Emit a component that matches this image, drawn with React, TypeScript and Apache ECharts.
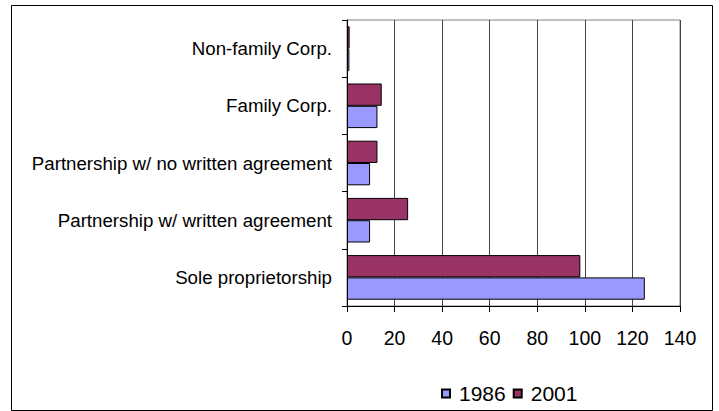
import React, { useEffect, useRef } from "react";
import * as echarts from "echarts";

const categories = [
  "Sole proprietorship",
  "Partnership w/ written agreement",
  "Partnership w/ no written agreement",
  "Family Corp.",
  "Non-family Corp.",
];
const seriesNames = ["1986", "2001"];
const values1986 = [125.2, 9.7, 9.7, 12.8, 1.0];
const values2001 = [98.1, 25.7, 12.8, 14.6, 1.1];
const colors = ["#9999FF", "#993366"];

const FONT = "'Liberation Sans', Arial, sans-serif";

export default function App() {
  const ref = useRef<HTMLDivElement>(null);
  useEffect(() => {
    if (!ref.current) return;
    const chart = echarts.init(ref.current, null, { renderer: "svg" });
    const seriesData = [values1986, values2001];
    // draw 2001 first so that 1986 sits in the lower half of each band
    const order = [1, 0];
    chart.setOption({
      animation: false,
      backgroundColor: "#ffffff",
      textStyle: { fontFamily: FONT, color: "#000" },
      grid: {
        left: 347,
        top: 20,
        right: 39,
        bottom: 105,
        show: true,
        borderColor: "#808080",
        borderWidth: 1,
      },
      xAxis: {
        type: "value",
        min: 0,
        max: 140,
        interval: 20,
        axisLine: { show: true, lineStyle: { color: "#000", width: 1 } },
        axisTick: { show: true, length: 6, lineStyle: { color: "#000" } },
        axisLabel: { fontSize: 19.5, color: "#000", margin: 22, fontFamily: FONT },
        splitLine: { show: true, lineStyle: { color: "#444", width: 1 } },
      },
      yAxis: {
        type: "category",
        data: categories,
        axisLine: { show: true, lineStyle: { color: "#000", width: 1 } },
        axisTick: { show: true, length: 5, lineStyle: { color: "#000" } },
        axisLabel: { fontSize: 18.7, color: "#000", margin: 15, fontFamily: FONT },
        splitLine: { show: false },
      },
      legend: {
        data: seriesNames,
        left: 436,
        top: 378,
        itemWidth: 8,
        itemHeight: 8,
        itemGap: 7,
        icon: "rect",
        textStyle: { fontSize: 21, color: "#000", fontFamily: FONT, padding: [0, 0, 0, 4] },
      },
      series: order.map((i) => ({
        name: seriesNames[i],
        type: "bar",
        data: seriesData[i],
        barGap: "0%",
        barCategoryGap: "22%",
        itemStyle: { color: colors[i], borderColor: "#000", borderWidth: 1 },
      })),
      graphic: [
        {
          type: "rect",
          shape: { x: 11.5, y: 5.5, width: 701, height: 405 },
          style: { fill: "none", stroke: "#000", lineWidth: 1 },
          silent: true,
        },
      ],
    });
    return () => chart.dispose();
  }, []);
  return (
    <div
      ref={ref}
      style={{ position: "fixed", left: 0, top: 0, width: 719, height: 411 }}
    />
  );
}
